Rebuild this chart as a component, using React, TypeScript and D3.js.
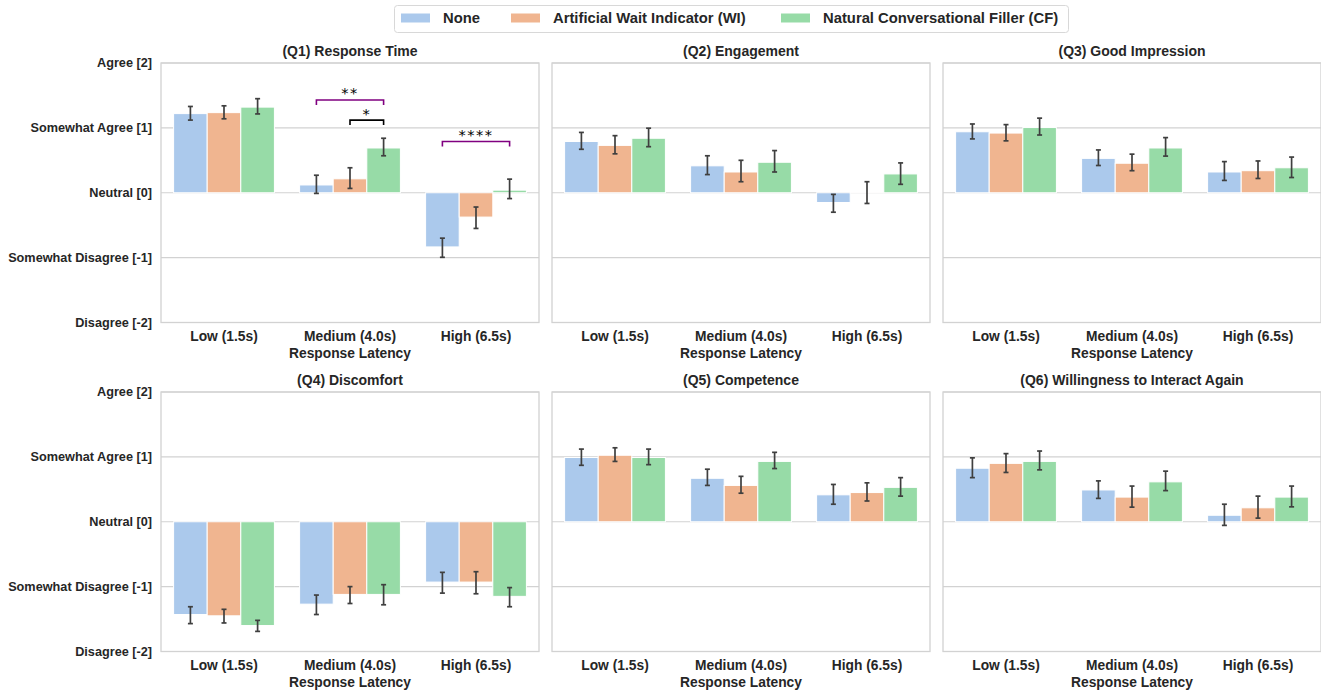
import React from "react";
import * as d3 from "d3";

// --- data ---------------------------------------------------------------
const categories = ["Low (1.5s)", "Medium (4.0s)", "High (6.5s)"];
const conditions = ["None", "Artificial Wait Indicator (WI)", "Natural Conversational Filler (CF)"];
const palette = ["#abc9ec", "#f0b590", "#97dba7"];

const yTicks = [2, 1, 0, -1, -2];
const yTickLabels = ["Agree [2]", "Somewhat Agree [1]", "Neutral [0]", "Somewhat Disagree [-1]", "Disagree [-2]"];

const titles = [
  "(Q1) Response Time",
  "(Q2) Engagement",
  "(Q3) Good Impression",
  "(Q4) Discomfort",
  "(Q5) Competence",
  "(Q6) Willingness to Interact Again",
];

// rows = condition (None, WI, CF), cols = latency (Low, Medium, High)
const q1Mean = [[1.22, 0.12, -0.835], [1.235, 0.215, -0.375], [1.32, 0.69, 0.04]];
const q1Lo = [[1.12, -0.01, -0.995], [1.14, 0.067, -0.55], [1.215, 0.57, -0.09]];
const q1Hi = [[1.33, 0.27, -0.7], [1.34, 0.385, -0.22], [1.45, 0.84, 0.21]];

const q2Mean = [[0.79, 0.415, -0.15], [0.73, 0.32, 0.003], [0.84, 0.47, 0.29]];
const q2Lo = [[0.67, 0.28, -0.3], [0.6, 0.17, -0.165], [0.71, 0.32, 0.13]];
const q2Hi = [[0.93, 0.57, -0.025], [0.88, 0.5, 0.17], [0.995, 0.65, 0.46]];

const q3Mean = [[0.94, 0.53, 0.32], [0.92, 0.455, 0.34], [1.005, 0.69, 0.385]];
const q3Lo = [[0.83, 0.42, 0.19], [0.8, 0.34, 0.22], [0.89, 0.565, 0.235]];
const q3Hi = [[1.06, 0.66, 0.48], [1.05, 0.595, 0.49], [1.15, 0.85, 0.55]];

const q4Mean = [[-1.43, -1.27, -0.93], [-1.45, -1.12, -0.93], [-1.6, -1.12, -1.15]];
const q4Lo = [[-1.57, -1.43, -1.1], [-1.56, -1.26, -1.11], [-1.69, -1.28, -1.31]];
const q4Hi = [[-1.31, -1.13, -0.78], [-1.35, -1.0, -0.77], [-1.52, -0.97, -1.015]];

const q5Mean = [[0.99, 0.67, 0.415], [1.025, 0.56, 0.45], [0.99, 0.93, 0.53]];
const q5Lo = [[0.87, 0.56, 0.27], [0.93, 0.44, 0.32], [0.88, 0.82, 0.395]];
const q5Hi = [[1.12, 0.81, 0.575], [1.14, 0.7, 0.6], [1.12, 1.07, 0.68]];

const q6Mean = [[0.825, 0.49, 0.1], [0.9, 0.38, 0.215], [0.93, 0.615, 0.38]];
const q6Lo = [[0.68, 0.36, -0.056], [0.76, 0.225, 0.056], [0.8, 0.48, 0.23]];
const q6Hi = [[0.985, 0.63, 0.27], [1.05, 0.55, 0.395], [1.09, 0.78, 0.55]];

// significance brackets on Q1: category index, from/to condition, height, label
const q1Brackets = [
  { cat: 1, from: 0, to: 2, y: 1.43, label: "**", color: "#800080" },
  { cat: 1, from: 1, to: 2, y: 1.12, label: "*", color: "#000000" },
  { cat: 2, from: 0, to: 2, y: 0.79, label: "****", color: "#800080" },
];

const panels = [
  { title: titles[0], mean: q1Mean, lo: q1Lo, hi: q1Hi, brackets: q1Brackets },
  { title: titles[1], mean: q2Mean, lo: q2Lo, hi: q2Hi, brackets: [] },
  { title: titles[2], mean: q3Mean, lo: q3Lo, hi: q3Hi, brackets: [] },
  { title: titles[3], mean: q4Mean, lo: q4Lo, hi: q4Hi, brackets: [] },
  { title: titles[4], mean: q5Mean, lo: q5Lo, hi: q5Hi, brackets: [] },
  { title: titles[5], mean: q6Mean, lo: q6Lo, hi: q6Hi, brackets: [] },
];

// --- layout -------------------------------------------------------------
const W = 1321;
const H = 694;
const colX = [161, 552, 943];
const rowY = [63, 392];
const pw = 378;
const ph = 259.5;
const font = "'Liberation Sans', Arial, Helvetica, sans-serif";
const textColor = "#262626";
const gridColor = "#d2d2d2";

const Panel = ({ p, col, row }) => {
  const x = d3.scaleBand().domain(categories).range([0, pw]);
  const inner = d3
    .scaleBand()
    .domain(conditions)
    .range([0, x.bandwidth() * 0.8]);
  const y = d3.scaleLinear().domain([-2, 2]).range([ph, 0]);
  const groupOff = x.bandwidth() * 0.1;

  return (
    <g transform={`translate(${colX[col]},${rowY[row]})`}>
      {yTicks.map((t) => (
        <line key={t} x1={0} x2={pw} y1={y(t)} y2={y(t)} stroke={gridColor} strokeWidth={1.2} />
      ))}
      <rect x={0} y={0} width={pw} height={ph} fill="none" stroke={gridColor} strokeWidth={1.3} />

      {conditions.map((c, si) =>
        categories.map((cat, ci) => {
          const v = p.mean[si][ci];
          const bx = x(cat) + groupOff + inner(c);
          return (
            <rect
              key={c + cat}
              x={bx}
              y={Math.min(y(v), y(0))}
              width={inner.bandwidth()}
              height={Math.abs(y(v) - y(0))}
              fill={palette[si]}
              stroke="#ffffff"
              strokeWidth={1}
            />
          );
        })
      )}

      {conditions.map((c, si) =>
        categories.map((cat, ci) => {
          const cx = x(cat) + groupOff + inner(c) + inner.bandwidth() / 2;
          const y1 = y(p.lo[si][ci]);
          const y2 = y(p.hi[si][ci]);
          return (
            <g key={"e" + c + cat} stroke="#3f3f3f" strokeWidth={1.7}>
              <line x1={cx} x2={cx} y1={y1} y2={y2} />
              <line x1={cx - 2.5} x2={cx + 2.5} y1={y1} y2={y1} />
              <line x1={cx - 2.5} x2={cx + 2.5} y1={y2} y2={y2} />
            </g>
          );
        })
      )}

      {p.brackets.map((b, i) => {
        const cat = categories[b.cat];
        const xa = x(cat) + groupOff + inner(conditions[b.from]) + inner.bandwidth() / 2;
        const xb = x(cat) + groupOff + inner(conditions[b.to]) + inner.bandwidth() / 2;
        const by = y(b.y);
        return (
          <g key={"b" + i}>
            <path
              d={`M${xa},${by + 5}V${by}H${xb}V${by + 5}`}
              fill="none"
              stroke={b.color}
              strokeWidth={1.6}
            />
            <text
              x={(xa + xb) / 2}
              y={by - 1.5}
              textAnchor="middle"
              fontFamily="'DejaVu Sans', sans-serif"
              fontSize={14.5}
              letterSpacing={1.5}
              fill="#000000"
            >
              {b.label}
            </text>
          </g>
        );
      })}

      <text
        x={pw / 2}
        y={-7}
        textAnchor="middle"
        fontFamily={font}
        fontWeight="bold"
        fontSize={14}
        fill={textColor}
      >
        {p.title}
      </text>

      {categories.map((cat) => (
        <text
          key={cat}
          x={x(cat) + x.bandwidth() / 2}
          y={ph + 18.5}
          textAnchor="middle"
          fontFamily={font}
          fontWeight="bold"
          fontSize={13.8}
          fill={textColor}
        >
          {cat}
        </text>
      ))}
      <text
        x={pw / 2}
        y={ph + 35.5}
        textAnchor="middle"
        fontFamily={font}
        fontWeight="bold"
        fontSize={13.8}
        fill={textColor}
      >
        Response Latency
      </text>

      {col === 0 &&
        yTicks.map((t, i) => (
          <text
            key={t}
            x={-9}
            y={y(t)}
            dy="0.35em"
            textAnchor="end"
            fontFamily={font}
            fontWeight="bold"
            fontSize={12.7}
            fill={textColor}
          >
            {yTickLabels[i]}
          </text>
        ))}
    </g>
  );
};

const legendPatchX = [401, 511, 781];
const legendTextX = [443, 553, 823];

const App = () => {
  return (
    <svg
      width={W}
      height={H}
      style={{ position: "absolute", left: 0, top: 0, background: "#ffffff" }}
    >
      <rect x={0} y={0} width={W} height={H} fill="#ffffff" />
      {panels.map((p, i) => (
        <Panel key={p.title} p={p} col={i % 3} row={Math.floor(i / 3)} />
      ))}

      {/* legend */}
      <rect x={394.5} y={5.5} width={674} height={27} rx={3} fill="#ffffff" stroke="#d8d8d8" strokeWidth={1} />
      {conditions.map((c, i) => (
        <g key={c}>
          <rect x={legendPatchX[i]} y={13.5} width={29} height={9} fill={palette[i]} />
          <text
            x={legendTextX[i]}
            y={18}
            dy="0.35em"
            fontFamily={font}
            fontWeight="bold"
            fontSize={14.8}
            fill={textColor}
          >
            {c}
          </text>
        </g>
      ))}
    </svg>
  );
};

export default App;
